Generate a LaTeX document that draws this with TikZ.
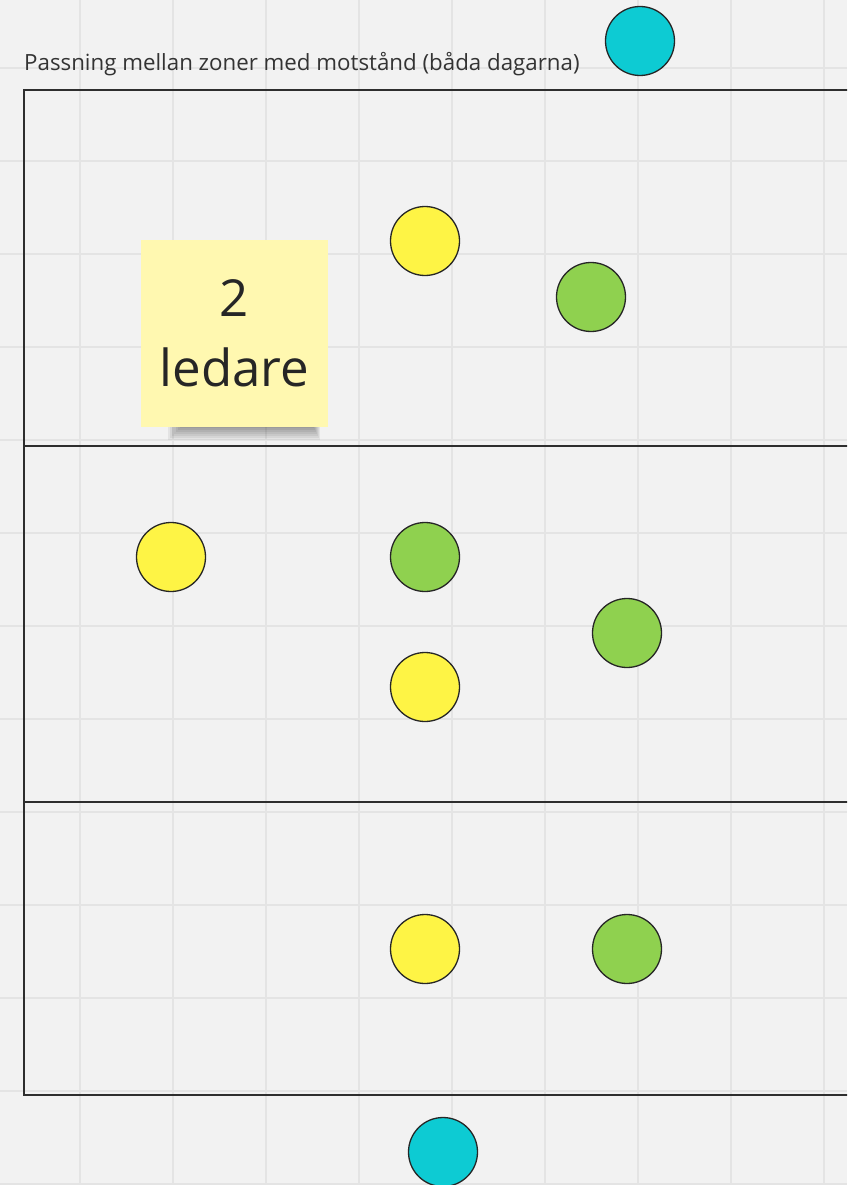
\documentclass[tikz,border=0pt]{standalone}
\usepackage{fontspec}
\setmainfont{Open Sans}

\definecolor{boardbg}{HTML}{F2F2F2}
\definecolor{gridgray}{HTML}{E4E4E4}
\definecolor{linegray}{HTML}{2E2E2E}
\definecolor{cyanplayer}{HTML}{0DCBD3}
\definecolor{yellowplayer}{HTML}{FEF445}
\definecolor{greenplayer}{HTML}{8FD14F}
\definecolor{stickyyellow}{HTML}{FFF8B0}

\begin{document}
\begin{tikzpicture}[x=1pt, y=-1pt,
    player/.style={circle, draw=black!85, line width=1.3pt, minimum size=69pt, inner sep=0pt},
    yellow player/.style={player, fill=yellowplayer},
    green player/.style={player, fill=greenplayer},
    cyan player/.style={player, fill=cyanplayer},
    zoneline/.style={draw=linegray, line width=2.4pt}]

% board and grid
\useasboundingbox (0,0) rectangle (847,1185);
\clip (0,0) rectangle (847,1185);
\fill[boardbg] (0,0) rectangle (847,1185);
\foreach \gx in {80,173,...,900}
    \draw[gridgray, line width=1.2pt] (\gx,0) -- (\gx,1185);
\foreach \gy in {68,161,...,1200}
    \draw[gridgray, line width=1.2pt] (0,\gy) -- (847,\gy);

% title
\node[anchor=base west, inner sep=0pt, font=\fontsize{22.3}{26}\selectfont, text=black!80]
    (title) at (24,71) {Passning mellan zoner med motstånd (båda dagarna)};

% field with three zones
\draw[linegray, line width=1.8pt] (870,90) -- (24,90) -- (24,1095) -- (870,1095);
\draw[zoneline] (24,446) -- (870,446);
\draw[zoneline] (24,802) -- (870,802);

% sticky note with soft shadow
\foreach \i in {0,...,6}
    \fill[black, opacity=0.06] (168+2*\i,418) rectangle (320-\i,440-2*\i);
\node[fill=stickyyellow, minimum size=187pt, inner sep=0pt, align=center,
      font=\fontsize{51}{70}\selectfont, text=black!85]
    (note) at (234.5,333.5) {2\\ledare};

% cyan players
\node[cyan player] (keeperTop) at (640,41) {};
\node[cyan player] (keeperBot) at (443,1152) {};

% yellow players
\node[yellow player] (yel1) at (425,241) {};
\node[yellow player] (yel2) at (171,557) {};
\node[yellow player] (yel3) at (425,687) {};
\node[yellow player] (yel4) at (425,949) {};

% green players
\node[green player] (grn1) at (591,297) {};
\node[green player] (grn2) at (425,557) {};
\node[green player] (grn3) at (627,633) {};
\node[green player] (grn4) at (627,949) {};

\end{tikzpicture}
\end{document}
